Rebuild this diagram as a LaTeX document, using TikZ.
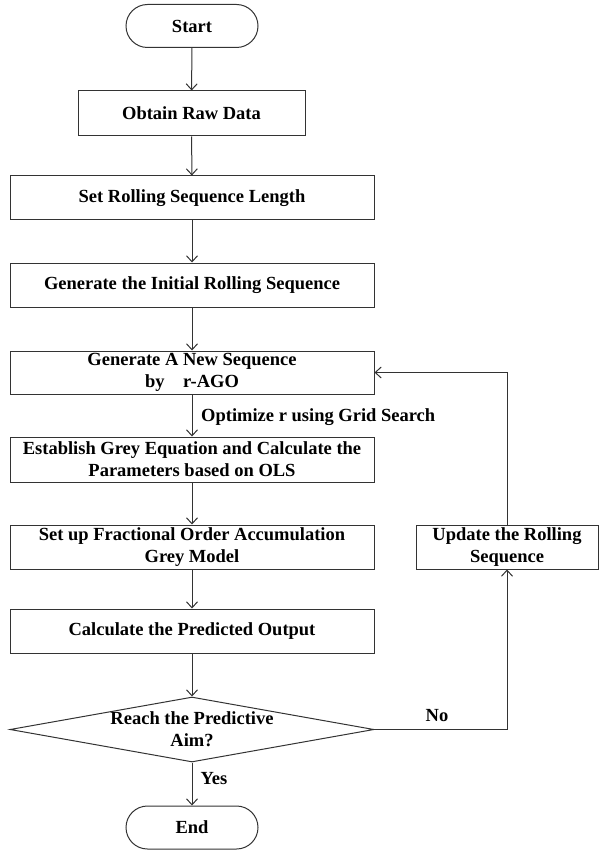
\documentclass[tikz,border=0pt]{standalone}
\usepackage{fontspec}
\setmainfont{Liberation Serif}
\usetikzlibrary{shapes.geometric,arrows.meta}
\begin{document}
\begin{tikzpicture}[x=1pt,y=-1pt,
  every node/.style={font=\fontsize{18.5}{22}\selectfont\bfseries, text=black},
  box/.style={draw=black!80, line width=1pt, rectangle, minimum width=364pt, minimum height=44pt, inner sep=0pt, align=center},
  term/.style={draw=black!80, line width=1pt, rectangle, rounded corners=21.5pt, minimum width=132pt, minimum height=43pt, inner sep=0pt},
  decision/.style={draw=black!80, line width=1pt, diamond, aspect=5.6, minimum width=364pt, minimum height=65pt, inner sep=0pt, align=center},
  flow/.style={draw=black!80, line width=1pt, -{Straight Barb[length=6pt,width=11pt]}},
  lbl/.style={inner sep=1pt}]
\useasboundingbox (0,0) rectangle (599,850);
\node[term] (start) at (192,26) {Start};
\node[box, minimum width=227pt, minimum height=45pt] (obtain) at (191.5,113.5) {Obtain Raw Data};
\node[box] (setlen) at (192,198) {Set Rolling Sequence Length};
\node[box] (init) at (192,285) {Generate the Initial Rolling Sequence};
\node[box, minimum height=43pt] (newseq) at (192,372.5) {Generate A New Sequence\\by\ \ \ \ r-AGO};
\node[box, minimum height=45pt] (establish) at (192,459.5) {Establish Grey Equation and Calculate the\\Parameters based on OLS};
\node[box] (fractional) at (192,547) {Set up Fractional Order Accumulation\\Grey Model};
\node[box, minimum width=182pt] (update) at (507,547) {Update the Rolling\\Sequence};
\node[box] (calc) at (192,631) {Calculate the Predicted Output};
\node[decision] (decide) at (192,729.5) {Reach the Predictive\\Aim?};
\node[term] (end) at (192,827.5) {End};
\node[lbl, anchor=west] (optlbl) at (200,417) {Optimize r using Grid Search};
\node[lbl] (yeslbl) at (214,779) {Yes};
\node[lbl] (nolbl) at (437,716) {No};
\draw[flow] (start) -- (obtain);
\draw[flow] (obtain) -- (setlen);
\draw[flow] (setlen) -- (init);
\draw[flow] (init) -- (newseq);
\draw[flow] (newseq) -- (establish);
\draw[flow] (establish) -- (fractional);
\draw[flow] (fractional) -- (calc);
\draw[flow] (calc) -- (decide);
\draw[flow] (decide) -- (end);
\draw[flow] (decide.east) -| (update.south);
\draw[flow] (update.north) |- (newseq.east);
\end{tikzpicture}
\end{document}
